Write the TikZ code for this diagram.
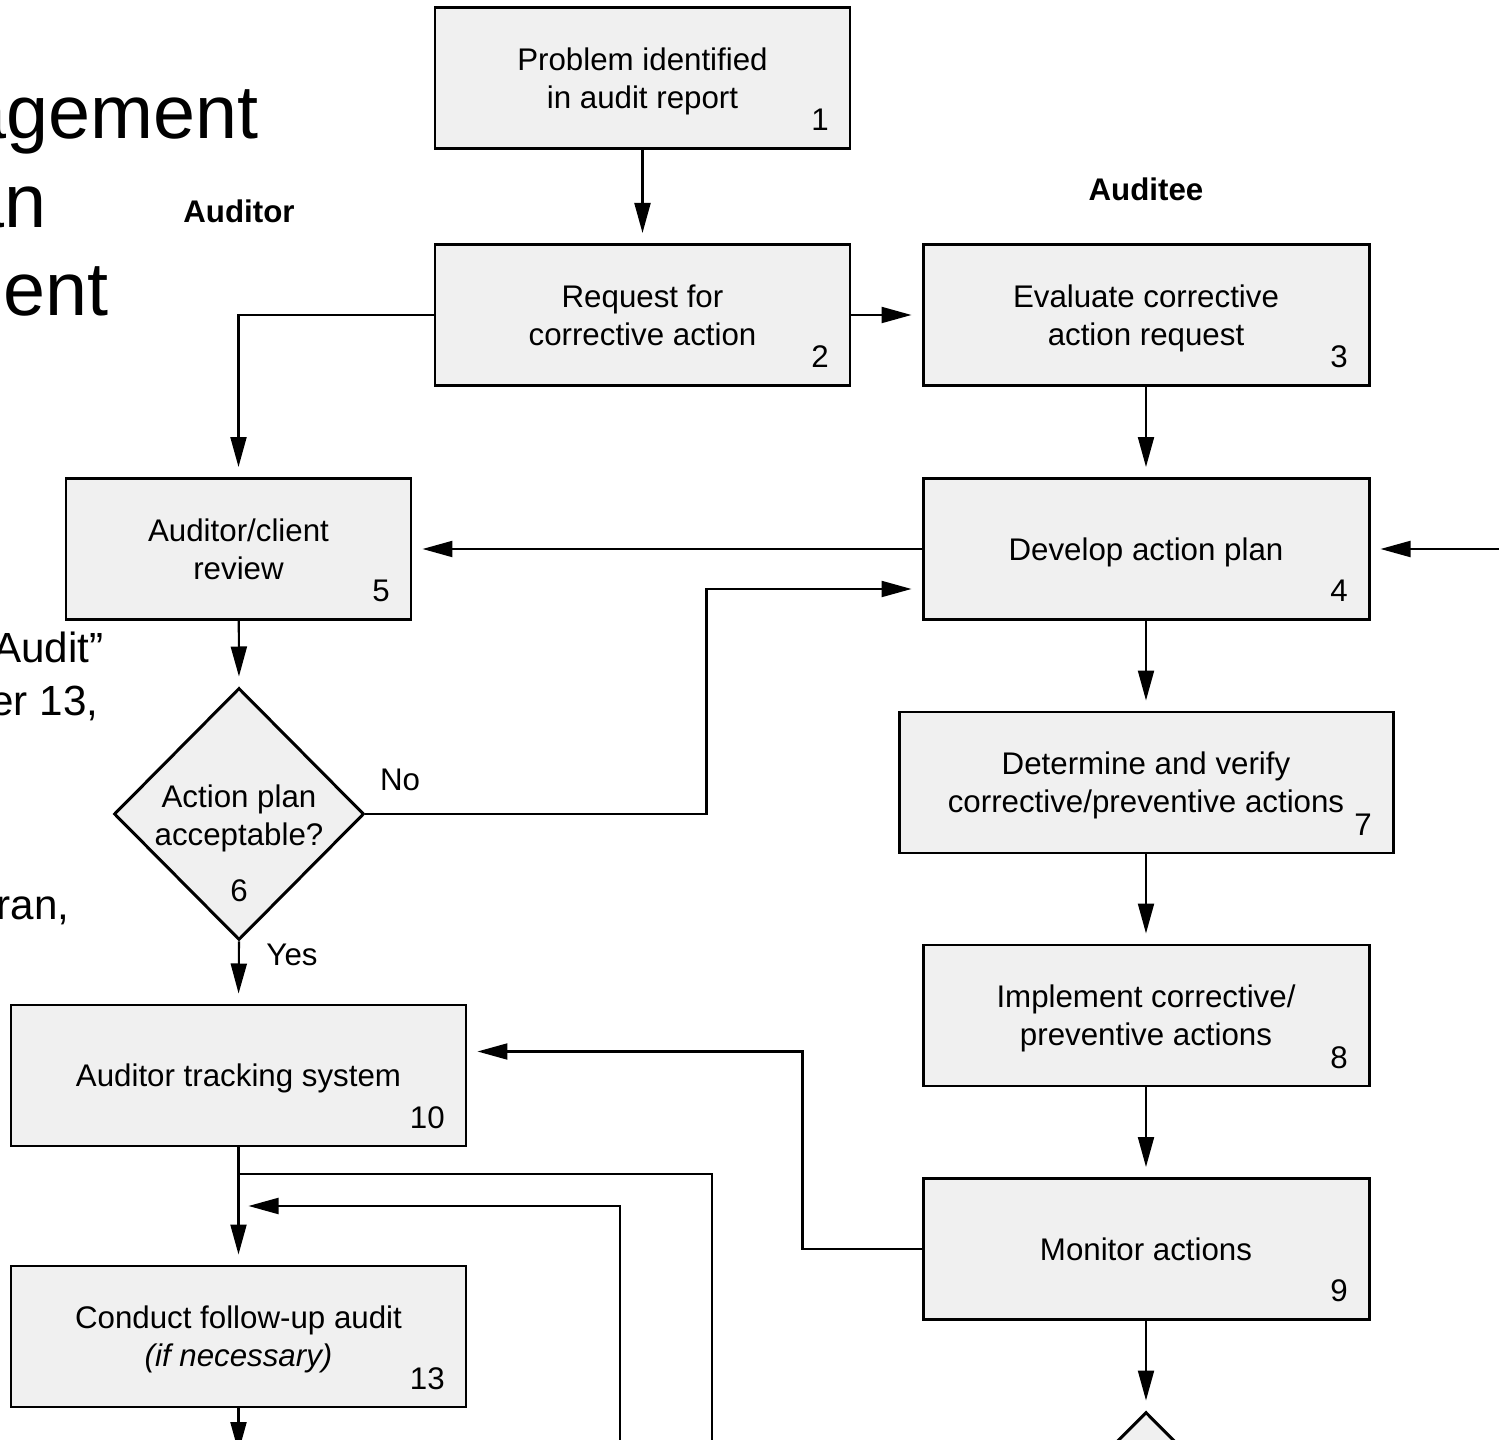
\documentclass[tikz,border=0pt]{standalone}
\usepackage{fontspec}
\setmainfont{Liberation Sans}
\usetikzlibrary{arrows.meta, calc, shapes.geometric}

\begin{document}
\begin{tikzpicture}[x=0.1mm, y=-0.1mm,
  box/.style={draw, line width=0.85pt, fill=gray!12, align=center, inner sep=0pt,
    minimum height=14.1mm, text depth=0pt, font=\fontsize{8.9}{10.8}\selectfont},
  dmd/.style={draw, diamond, line width=0.85pt, fill=gray!12, inner sep=0pt,
    minimum width=25mm, minimum height=25.2mm},
  num/.style={anchor=base east, inner sep=0pt, font=\fontsize{8.9}{10.8}\selectfont},
  txt/.style={inner sep=0pt, align=center, font=\fontsize{8.9}{10.8}\selectfont},
  big/.style={anchor=base east, inner sep=0pt, font=\fontsize{21.5}{26}\selectfont},
  side/.style={anchor=base east, inner sep=0pt, font=\fontsize{12}{15}\selectfont},
  arr/.style={line width=0.6pt, -{Triangle[length=3mm,width=1.6mm]}, shorten >=1mm},
  line/.style={line width=0.6pt}]
\useasboundingbox (0,0) rectangle (1499,1440);
\clip (0,0) rectangle (1499,1440);

% slide text behind the chart
\node[big] at (259,139) {agement};
\node[big] at (47,228) {an};
\node[big] at (109,316) {ent};
\node[side] at (104,663) {Audit”};
\node[side] at (99,716) {er 13,};
\node[side] at (70,920) {ran,};

\node[txt, font=\fontsize{8.9}{10.8}\selectfont\bfseries] (auditor) at (239,211) {Auditor};
\node[txt, font=\fontsize{8.9}{10.8}\selectfont\bfseries] (auditee) at (1146,189) {Auditee};

% boxes
\node[box, minimum width=41.5mm] (b1) at (642.5,78) {Problem identified\\in audit report};
\node[box, minimum width=41.5mm] (b2) at (642.5,315) {Request for\\corrective action};
\node[box, minimum width=44.6mm] (b3) at (1146,315) {Evaluate corrective\\action request};
\node[box, minimum width=44.6mm] (b4) at (1146,549) {Develop action plan};
\node[box, minimum width=34.5mm] (b5) at (238.5,549) {Auditor/client\\review};
\node[dmd] (d6) at (239,814) {};
\node[txt] (q6) at (239,818) {Action plan\\acceptable?};
\node[box, minimum width=49.4mm] (b7) at (1146,782.5) {Determine and verify\\corrective/preventive actions};
\node[box, minimum width=44.6mm] (b8) at (1146,1015.5) {Implement corrective/\\preventive actions};
\node[box, minimum width=44.6mm] (b9) at (1146,1249) {Monitor actions};
\node[box, minimum width=45.5mm] (b10) at (238.5,1075.5) {Auditor tracking system};
\node[box, minimum width=45.5mm] (b13) at (238.5,1336.5) {Conduct follow-up audit\\\textit{(if necessary)}};
\node[dmd] (d11) at (1146,1538) {};

% numbers
\node[num] at ($(b1.south east)+(-22,-19)$) {1};
\node[num] at ($(b2.south east)+(-22,-19)$) {2};
\node[num] at ($(b3.south east)+(-22,-19)$) {3};
\node[num] at ($(b4.south east)+(-22,-19)$) {4};
\node[num] at ($(b5.south east)+(-22,-19)$) {5};
\node[txt] at (239,891) {6};
\node[num] at ($(b7.south east)+(-22,-19)$) {7};
\node[num] at ($(b8.south east)+(-22,-19)$) {8};
\node[num] at ($(b9.south east)+(-22,-19)$) {9};
\node[num] at ($(b10.south east)+(-22,-19)$) {10};
\node[num] at ($(b13.south east)+(-22,-19)$) {13};

\node[txt] (no) at (400,780) {No};
\node[txt] (yes) at (292,955) {Yes};

% connectors
\coordinate (ext) at (1510,549);
\coordinate (s1) at (238.5,1174);
\coordinate (s2) at (712,1174);
\coordinate (s3) at (712,1460);
\coordinate (r1) at (620,1460);
\coordinate (r2) at (620,1206);
\coordinate (r3) at (238.5,1206);
\coordinate (o13) at (238.5,1462);

\draw[arr] (b1) -- (b2);
\draw[arr] (b2) -- (b3);
\draw[arr] (b2.west) -| (b5.north);
\draw[arr] (b3) -- (b4);
\draw[arr] (b4) -- (b5);
\draw[arr] (ext) -- (b4.east);
\draw[arr] (b5) -- (d6.north);
\draw[arr] (d6.east) -- ++(341,0) |- ($(b4.west)+(0,40)$);
\draw[arr] (d6.south) -- (b10.north);
\draw[arr] (b4) -- (b7);
\draw[arr] (b7) -- (b8);
\draw[arr] (b8) -- (b9);
\draw[arr] (b9.west) -- ++(-119,0) |- ($(b10.east)+(0,-24)$);
\draw[arr] (b9) -- (d11.north);
\draw[arr] (b10) -- (b13);
\draw[line] (s1) -- (s2) -- (s3);
\draw[arr] (r1) -- (r2) -- (r3);
\draw[arr] (b13) -- (o13);
\end{tikzpicture}
\end{document}
